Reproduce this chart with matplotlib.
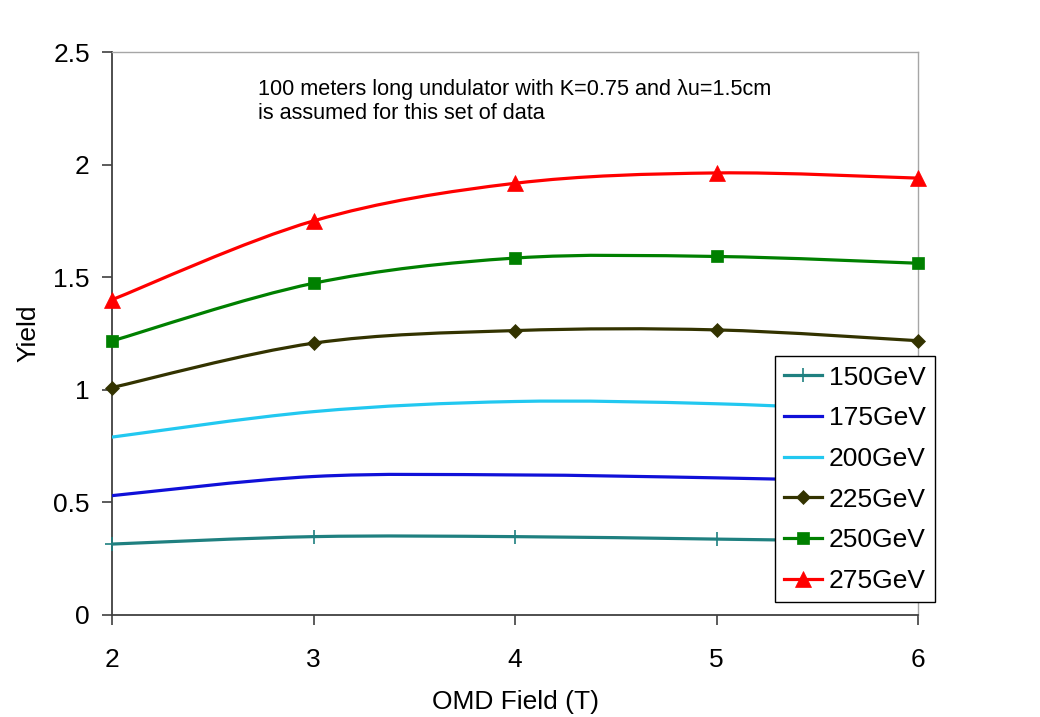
import matplotlib.pyplot as plt
import matplotlib as mpl
from matplotlib.path import Path
from matplotlib.patches import PathPatch
from matplotlib.lines import Line2D
import numpy as np

mpl.rcParams.update({
    "font.family": ["Liberation Sans", "DejaVu Sans"],
    "font.size": 19,
    "xtick.labelsize": 19,
    "ytick.labelsize": 19,
    "axes.labelsize": 19,
    "legend.fontsize": 19,
})

# ---- data ----
omd_field = [2, 3, 4, 5, 6]
labels = ['150GeV', '175GeV', '200GeV', '225GeV', '250GeV', '275GeV']
y150 = [0.315, 0.348, 0.348, 0.337, 0.325]
y175 = [0.53, 0.615, 0.622, 0.609, 0.59]
y200 = [0.79, 0.903, 0.948, 0.938, 0.90]
y225 = [1.01, 1.207, 1.263, 1.266, 1.218]
y250 = [1.217, 1.473, 1.585, 1.592, 1.562]
y275 = [1.40, 1.75, 1.917, 1.963, 1.94]
series = [y150, y175, y200, y225, y250, y275]

colors = ['#1f8080', '#1010d8', '#22c8f0', '#333300', '#008000', '#ff0000']
markers = ['+', None, None, 'D', 's', '^']
msizes = [10, 0, 0, 7.5, 9, 11]


def smooth_path(xs, ys):
    # Excel-style smoothed line: cubic bezier segments through the points
    pts = np.column_stack([xs, ys]).astype(float)
    ext = np.vstack([pts[0], pts, pts[-1]])
    verts = [tuple(pts[0])]
    codes = [Path.MOVETO]
    for i in range(1, len(ext) - 2):
        p0, p1, p2, p3 = ext[i - 1], ext[i], ext[i + 1], ext[i + 2]
        c1 = p1 + (p2 - p0) / 6.0
        c2 = p2 - (p3 - p1) / 6.0
        verts += [tuple(c1), tuple(c2), tuple(p2)]
        codes += [Path.CURVE4] * 3
    return Path(verts, codes)


fig = plt.figure(figsize=(10.4, 7.17), dpi=100)
fig.patch.set_facecolor('white')
ax = fig.add_axes([112 / 1040, 1 - 615 / 717, 806 / 1040, 563 / 717])

handles = []
for ys, c, m, ms, lab in zip(series, colors, markers, msizes, labels):
    ax.add_patch(PathPatch(smooth_path(omd_field, ys), facecolor='none',
                           edgecolor=c, linewidth=2.3, zorder=3,
                           capstyle='round', joinstyle='round'))
    if m is not None:
        ax.plot(omd_field, ys, linestyle='none', marker=m, markersize=ms,
                color=c, markeredgewidth=1.2 if m == '+' else 0.5, zorder=4,
                clip_on=False)
    handles.append(Line2D([], [], color=c, linewidth=2.3, marker=m,
                          markersize=ms, markeredgewidth=1.2 if m == '+' else 0.5))

ax.set_xlim(2, 6)
ax.set_ylim(0, 2.5)
ax.set_xticks([2, 3, 4, 5, 6])
ax.set_yticks([0, 0.5, 1, 1.5, 2, 2.5])
ax.set_yticklabels(['0', '0.5', '1', '1.5', '2', '2.5'])
ax.tick_params(direction='out', length=7, width=1.2, color='#404040', pad=9)
ax.tick_params(axis='x', pad=17)

for s in ['left', 'bottom']:
    ax.spines[s].set_color('#404040')
    ax.spines[s].set_linewidth(1.3)
for s in ['top', 'right']:
    ax.spines[s].set_color('#a6a6a6')
    ax.spines[s].set_linewidth(1.0)

ax.set_xlabel('OMD Field (T)', labelpad=13)
ax.set_ylabel('Yield', labelpad=9)

ax.text(0.181, 0.952,
        '100 meters long undulator with K=0.75 and λu=1.5cm\n'
        'is assumed for this set of data',
        transform=ax.transAxes, ha='left', va='top', fontsize=15.6,
        linespacing=1.2)

leg = ax.legend(handles, labels, loc='lower right',
                bbox_to_anchor=(1.021, 0.023), frameon=True, fancybox=False,
                handlelength=1.45, handletextpad=0.25, labelspacing=0.63,
                borderpad=0.35, borderaxespad=0)
leg.get_frame().set_edgecolor('black')
leg.get_frame().set_linewidth(1.0)
leg.get_frame().set_alpha(1)
leg.set_zorder(10)

fig.savefig('out.png', dpi=100, facecolor='white')
